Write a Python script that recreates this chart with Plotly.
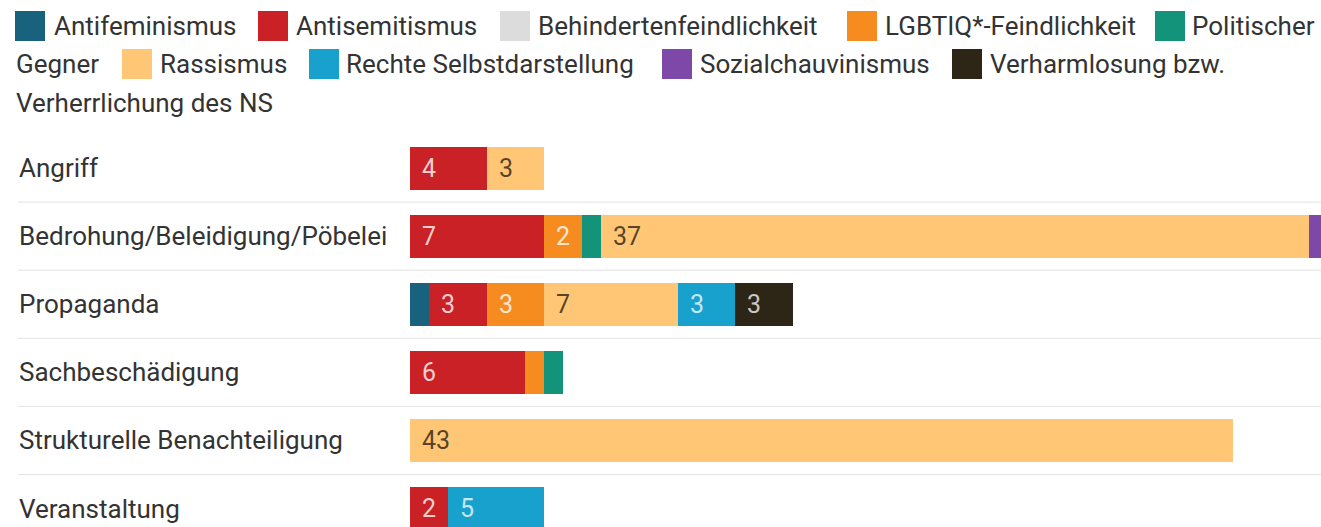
import plotly.graph_objects as go

categories = ["Angriff", "Bedrohung/Beleidigung/Pöbelei", "Propaganda",
              "Sachbeschädigung", "Strukturelle Benachteiligung", "Veranstaltung"]

series_names = ["Antifeminismus", "Antisemitismus", "Behindertenfeindlichkeit",
                "LGBTIQ*-Feindlichkeit", "Politischer Gegner", "Rassismus",
                "Rechte Selbstdarstellung", "Sozialchauvinismus",
                "Verharmlosung bzw. Verherrlichung des NS"]

antifeminismus = [0, 0, 1, 0, 0, 0]
antisemitismus = [4, 7, 3, 6, 0, 2]
behindertenfeindlichkeit = [0, 0, 0, 0, 0, 0]
lgbtiq = [0, 2, 3, 1, 0, 0]
politischer_gegner = [0, 1, 0, 1, 0, 0]
rassismus = [3, 37, 7, 0, 43, 0]
rechte_selbstdarstellung = [0, 0, 3, 0, 0, 5]
sozialchauvinismus = [0, 1, 0, 0, 0, 0]
verharmlosung = [0, 0, 3, 0, 0, 0]

series_values = [antifeminismus, antisemitismus, behindertenfeindlichkeit, lgbtiq,
                 politischer_gegner, rassismus, rechte_selbstdarstellung,
                 sozialchauvinismus, verharmlosung]

# styles
colors = ["#18627e", "#c92126", "#dcdcdc", "#f68b1f", "#139379",
          "#ffc676", "#18a1cd", "#7d48a8", "#2d2616"]
label_colors = ["rgba(255,255,255,0.8)", "rgba(255,255,255,0.78)", "rgba(0,0,0,0.7)",
                "rgba(255,255,255,0.8)", "rgba(255,255,255,0.8)", "rgba(0,0,0,0.68)",
                "rgba(255,255,255,0.75)", "rgba(255,255,255,0.8)", "rgba(255,255,255,0.75)"]

W, H = 1321, 527
ML, MT = 410, 134
PW, PH = W - ML, H - MT
FONT = "Roboto"
TXT = "#333333"
FS = 26


def px(x):
    return (x - ML) / PW


def py(y):
    return 1 - (y - MT) / PH


fig = go.Figure()
for name, vals, col in zip(series_names, series_values, colors):
    fig.add_trace(go.Bar(
        y=categories, x=vals, name=name, orientation="h",
        marker=dict(color=col, line=dict(width=0)),
        hoverinfo="x+name",
    ))

annotations = []
shapes = []

# value labels inside bars
for i, cat in enumerate(categories):
    base = 0
    for vals, lc in zip(series_values, label_colors):
        v = vals[i]
        if v >= 2:
            annotations.append(dict(
                x=base, y=cat, xref="x", yref="y", text=str(v),
                xanchor="left", yanchor="middle", xshift=10, showarrow=False,
                font=dict(family=FONT, size=25, color=lc),
            ))
        base += v

# category labels
for cat in categories:
    annotations.append(dict(
        x=px(17), y=cat, xref="paper", yref="y", text=cat,
        xanchor="left", yanchor="middle", showarrow=False,
        font=dict(family=FONT, size=FS, color=TXT),
    ))

# separator lines between rows
for i in range(len(categories) - 1):
    shapes.append(dict(
        type="line", xref="paper", yref="y", x0=px(18), x1=1,
        y0=i + 0.5, y1=i + 0.5, line=dict(color="#e3e3e3", width=1),
        layer="below",
    ))

# custom wrapped legend (layout: square left x, text left x, row center y)
legend_items = [
    (0, 15, 52, 26, "Antifeminismus"),
    (1, 258, 294, 26, "Antisemitismus"),
    (2, 500, 536, 26, "Behindertenfeindlichkeit"),
    (3, 847, 883, 26, "LGBTIQ*-Feindlichkeit"),
    (4, 1155, 1190, 26, "Politischer"),
    (None, None, 14, 64, "Gegner"),
    (5, 122, 158, 64, "Rassismus"),
    (6, 309, 344, 64, "Rechte Selbstdarstellung"),
    (7, 662, 698, 64, "Sozialchauvinismus"),
    (8, 952, 988, 64, "Verharmlosung bzw."),
    (None, None, 14, 103, "Verherrlichung des NS"),
]
SQ = 30
for idx, sx, tx, cy, label in legend_items:
    if idx is not None:
        shapes.append(dict(
            type="rect", xref="paper", yref="paper",
            x0=px(sx), x1=px(sx + SQ), y0=py(cy + SQ / 2), y1=py(cy - SQ / 2),
            fillcolor=colors[idx], line=dict(width=0),
        ))
    annotations.append(dict(
        x=px(tx), y=py(cy), xref="paper", yref="paper", text=label,
        xanchor="left", yanchor="middle", showarrow=False,
        font=dict(family=FONT, size=FS, color=TXT),
    ))

px_per_unit = 19.13
row_px = 68.1
y_bottom = -0.5 + PH / row_px

fig.update_layout(
    width=W, height=H,
    margin=dict(l=ML, r=0, t=MT, b=0, pad=0),
    barmode="stack", bargap=0.37,
    showlegend=False,
    plot_bgcolor="white", paper_bgcolor="white",
    font=dict(family=FONT, size=FS, color=TXT),
    xaxis=dict(range=[0, PW / px_per_unit], visible=False, fixedrange=True),
    yaxis=dict(type="category", range=[y_bottom, -0.5], visible=False, fixedrange=True),
    annotations=annotations,
    shapes=shapes,
)

fig.write_html(
    "out.html",
    config={"displayModeBar": False},
    post_script="document.body.style.margin='0';document.body.style.overflow='hidden';",
)
